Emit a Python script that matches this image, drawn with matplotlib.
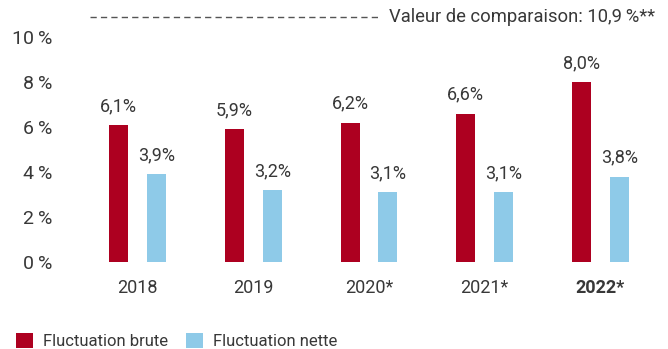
import matplotlib
matplotlib.use("Agg")
import matplotlib.pyplot as plt
from matplotlib.patches import Patch

plt.rcParams['font.family'] = ['Roboto', 'DejaVu Sans']

years = ["2018", "2019", "2020*", "2021*", "2022*"]
brute = [6.1, 5.9, 6.2, 6.6, 8.0]
nette = [3.9, 3.2, 3.1, 3.1, 3.8]
brute_labels = ["6,1%", "5,9%", "6,2%", "6,6%", "8,0%"]
nette_labels = ["3,9%", "3,2%", "3,1%", "3,1%", "3,8%"]
y_ticks = [0, 2, 4, 6, 8, 10]
y_tick_labels = ["0\u2009%", "2\u2009%", "4\u2009%", "6\u2009%", "8\u2009%", "10\u2009%"]
comparison_value = 10.9
comparison_text = "Valeur de comparaison: 10,9\u2009%**"
series_names = ["Fluctuation brute", "Fluctuation nette"]

RED = "#AD0020"
BLUE = "#8ECAE8"
TEXT = "#383838"

W, H = 668, 349
fig = plt.figure(figsize=(W / 100, H / 100), dpi=100)
ax = fig.add_axes([80 / W, (H - 262) / H, 578 / W, 247.5 / H])

x = range(len(years))
bw = 0.164
off = 0.164
bars_b = ax.bar([i - off for i in x], brute, width=bw, color=RED)
bars_n = ax.bar([i + off for i in x], nette, width=bw, color=BLUE)

for bars, labels in ((bars_b, brute_labels), (bars_n, nette_labels)):
    for b, lab in zip(bars, labels):
        ax.annotate(lab, (b.get_x() + b.get_width() / 2, b.get_height()),
                    xytext=(0, 7), textcoords="offset points",
                    ha="center", va="bottom", fontsize=13, color=TEXT)

ax.set_xlim(-0.5, len(years) - 0.5)
ax.set_ylim(0, 11)
ax.set_yticks(y_ticks)
ax.set_yticklabels(y_tick_labels, fontsize=14, color=TEXT)
ax.set_xticks(list(x))
ax.set_xticklabels(years, fontsize=13, color=TEXT)
ax.get_xticklabels()[-1].set_fontweight("bold")
ax.tick_params(axis="y", length=0, pad=20)
ax.tick_params(axis="x", length=0, pad=12)
for s in ax.spines.values():
    s.set_visible(False)

# comparison reference line with its label
x0 = (90 - 80) / 578 * len(years) - 0.5
x1 = (380 - 80) / 578 * len(years) - 0.5
ax.plot([x0, x1], [comparison_value, comparison_value], color="#555555",
        lw=1.0, linestyle=(0, (4.5, 3)), clip_on=False)
ax.text(x1 + 0.08, comparison_value, comparison_text, ha="left", va="center",
        fontsize=13.2, color=TEXT, clip_on=False)

handles = [Patch(facecolor=RED), Patch(facecolor=BLUE)]
fig.legend(handles, series_names, loc="center left",
           bbox_to_anchor=(1 / W, 1 - 341 / H), frameon=False, ncol=2,
           fontsize=12, handlelength=1.0, handleheight=1.0,
           handletextpad=0.6, columnspacing=1.1, labelcolor=TEXT)

fig.savefig("out.png", dpi=100)
